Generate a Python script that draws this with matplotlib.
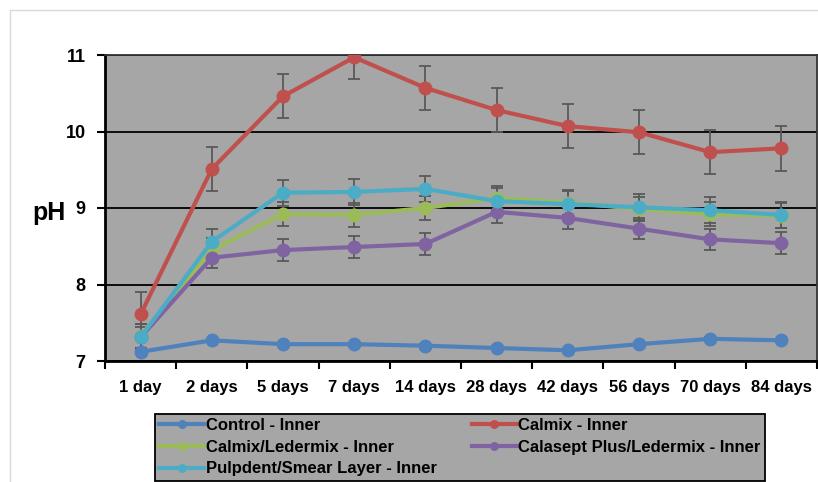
import matplotlib
matplotlib.use("Agg")
import matplotlib.pyplot as plt
from matplotlib.patches import Rectangle
import numpy as np

plt.rcParams['font.family'] = ['Liberation Sans', 'DejaVu Sans']

categories = ["1 day", "2 days", "5 days", "7 days", "14 days", "28 days",
              "42 days", "56 days", "70 days", "84 days"]

control = [7.12, 7.27, 7.22, 7.22, 7.20, 7.17, 7.14, 7.22, 7.29, 7.27]
calmix = [7.61, 9.51, 10.46, 10.97, 10.57, 10.28, 10.07, 9.99, 9.73, 9.78]
calmix_leder = [7.33, 8.45, 8.92, 8.91, 9.00, 9.13, 9.07, 8.99, 8.92, 8.90]
calasept = [7.31, 8.35, 8.45, 8.49, 8.53, 8.95, 8.87, 8.73, 8.59, 8.54]
pulpdent = [7.31, 8.56, 9.20, 9.21, 9.25, 9.09, 9.05, 9.01, 8.97, 8.91]

err_control = [0.02] * 10
err_calmix = [0.29] * 10
err_calmix_leder = [0.16] * 10
err_calasept = [0.14] * 10
err_pulpdent = [0.17] * 10

series = [
    ("Control - Inner", control, err_control, "#4F81BD"),
    ("Calmix - Inner", calmix, err_calmix, "#C0504D"),
    ("Calmix/Ledermix - Inner", calmix_leder, err_calmix_leder, "#9BBB59"),
    ("Calasept Plus/Ledermix - Inner", calasept, err_calasept, "#8064A2"),
    ("Pulpdent/Smear Layer - Inner", pulpdent, err_pulpdent, "#4BACC6"),
]

W, H = 818, 482
fig = plt.figure(figsize=(W / 100, H / 100), dpi=100)
fig.patches.append(Rectangle((10 / W, -0.1), 1.2, 1 - 10 / H + 0.1, transform=fig.transFigure,
                             fill=False, edgecolor="#D9D9D9", linewidth=1.0))
ax = fig.add_axes([105 / W, (H - 361) / H, (817 - 105) / W, (361 - 55) / H])
ax.set_facecolor("#A6A6A6")

x = np.arange(len(categories))
handles = {}
for name, vals, errs, col in series:
    ax.errorbar(x, vals, yerr=errs, fmt="none", ecolor="#595959", elinewidth=1.3,
                capsize=4, capthick=1.3, zorder=2)
for name, vals, errs, col in series:
    h, = ax.plot(x, vals, color=col, linewidth=3, marker="o", markersize=9,
                 label=name, zorder=3)
    handles[name] = h

ax.set_xlim(-0.5, len(categories) - 0.5)
ax.set_ylim(7, 11)
ax.set_yticks([7, 8, 9, 10, 11])
ax.yaxis.grid(True, color="black", linewidth=1.3)
ax.set_axisbelow(True)
ax.set_xticks(x)
ax.set_xticklabels(categories, fontsize=12, fontweight="bold")
ax.tick_params(axis="x", which="major", length=0, pad=14)
ax.set_xticks(np.arange(-0.5, len(categories)), minor=True)
ax.tick_params(axis="x", which="minor", length=6, width=1.5, direction="out")
ax.tick_params(axis="y", length=6, width=1.5, direction="out", labelsize=13, pad=8)
for lbl in ax.get_yticklabels():
    lbl.set_fontweight("bold")
for s in ["left", "bottom"]:
    ax.spines[s].set_linewidth(2)
    ax.spines[s].set_color("black")
for s in ["top", "right"]:
    ax.spines[s].set_linewidth(1.3)
    ax.spines[s].set_color("#333333")

fig.text(49 / W, 1 - 213 / H, "pH", fontsize=18, fontweight="bold", ha="center", va="center")

order = ["Control - Inner", "Calmix/Ledermix - Inner", "Pulpdent/Smear Layer - Inner",
         "Calmix - Inner", "Calasept Plus/Ledermix - Inner"]
leg = fig.legend([handles[n] for n in order], order, ncol=2, loc="upper left",
                 bbox_to_anchor=(155 / W, 1 - 414 / H),
                 prop={"size": 12, "weight": "bold"}, frameon=True, fancybox=False,
                 handlelength=2.7, handletextpad=0.1, columnspacing=2.1,
                 labelspacing=0.4, borderpad=0.25, borderaxespad=0, markerscale=0.6)
leg.get_frame().set_facecolor("#A6A6A6")
leg.get_frame().set_edgecolor("black")
leg.get_frame().set_linewidth(1.3)
leg.get_frame().set_alpha(1)

fig.savefig("out.png", dpi=100)
